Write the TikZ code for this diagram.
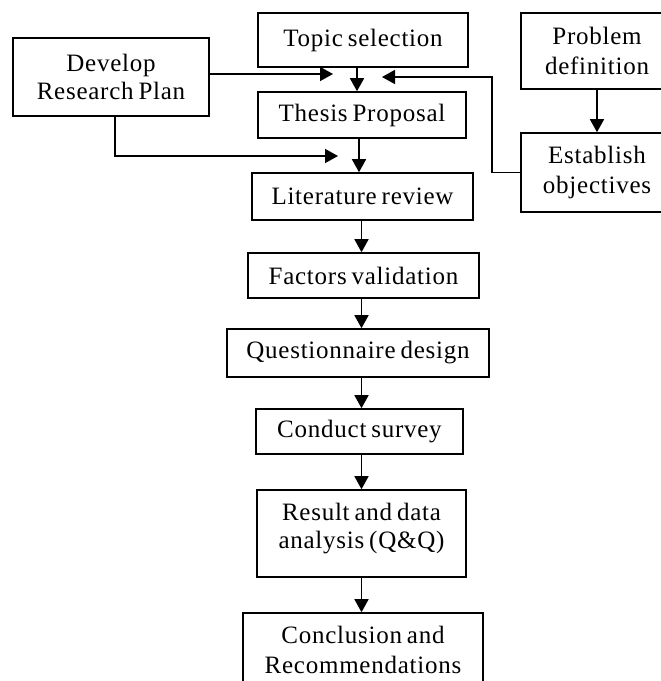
\documentclass[tikz,border=0pt]{standalone}
\usepackage{fontspec}
\setmainfont[LetterSpace=3,WordSpace=0.7]{Liberation Serif}
\usetikzlibrary{arrows.meta,calc}
\newcommand{\lowpad}{\rule[-15pt]{0pt}{0pt}}
\begin{document}
\begin{tikzpicture}[x=1pt,y=-1pt,
  box/.style={draw,line width=1.6pt,inner sep=0pt,align=center,
    font=\fontsize{25}{28}\selectfont},
  wide/.style={font=\fontsize{25}{30}\selectfont},
  arr/.style={line width=1.6pt,-{Triangle[width=14pt,length=13pt]}}]
\useasboundingbox[fill=white] (0,0) rectangle (661,681);
% boxes
\node[box,minimum width=210pt,minimum height=54pt] (topic) at (363,40) {Topic selection};
\node[box,minimum width=196pt,minimum height=78pt] (develop) at (111,77) {Develop\\Research Plan};
\node[box,wide,minimum width=152pt,minimum height=76pt] (problem) at (597,51) {Problem\\definition};
\node[box,minimum width=208pt,minimum height=46pt] (thesis) at (362,115) {Thesis Proposal};
\node[box,wide,minimum width=152pt,minimum height=79pt] (establish) at (597,172.5) {Establish\\objectives};
\node[box,minimum width=221pt,minimum height=47pt] (lit) at (362.5,196.5) {Literature review};
\node[box,minimum width=231pt,minimum height=45pt] (factors) at (363.5,275.5) {Factors validation};
\node[box,minimum width=262pt,minimum height=48pt] (quest) at (358,353) {Questionnaire design};
\node[box,minimum width=207pt,minimum height=45pt] (survey) at (359.5,431.5) {Conduct survey};
\node[box,minimum width=209pt,minimum height=87pt] (result) at (361.5,533.5) {Result and data\\analysis (Q\&Q)\lowpad};
\node[box,wide,minimum width=240pt,minimum height=88pt] (concl) at (363,657) {Conclusion and\\Recommendations\lowpad};
% spine coordinates
\coordinate (sA) at (357,0);
\coordinate (sB) at (359,0);
\coordinate (sC) at (361.5,0);
\coordinate (d1) at (333,74);
\coordinate (e1) at (382,77);
\coordinate (d2) at (338,156);
% main flow
\draw[arr] (topic.south -| sA) -- (thesis.north -| sA);
\draw[arr] (thesis.south -| sB) -- (lit.north -| sB);
\draw[arr] (lit.south -| sC) -- (factors.north -| sC);
\draw[arr] (factors.south -| sC) -- (quest.north -| sC);
\draw[arr] (quest.south -| sC) -- (survey.north -| sC);
\draw[arr] (survey.south -| sC) -- (result.north -| sC);
\draw[arr] (result.south -| sC) -- (concl.north -| sC);
% side inputs
\draw[arr] (develop.east |- d1) -- (d1);
\draw[arr] ([xshift=4pt]develop.south) |- (d2);
\draw[arr] (establish.west) -- ++(-28,0) |- (e1);
\draw[arr] (problem.south) -- (establish.north);
\end{tikzpicture}
\end{document}
